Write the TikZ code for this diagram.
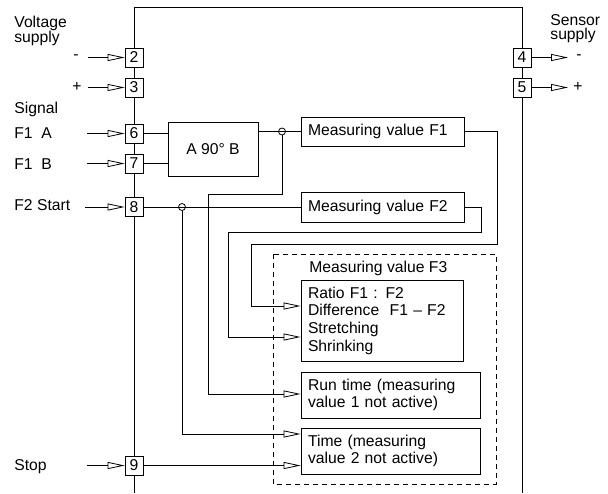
\documentclass[tikz,border=0pt]{standalone}
\usepackage{fontspec}
\setmainfont{Liberation Sans}
\usetikzlibrary{arrows.meta}
\begin{document}
\begin{tikzpicture}[x=1pt,y=-1pt, line width=0.8pt,
 font=\fontsize{15.7}{17.7}\selectfont,
 term/.style={draw, fill=white, minimum width=18pt, minimum height=19pt, inner sep=0pt},
 blk/.style={draw, fill=white, inner xsep=7pt, inner ysep=0pt, align=left},
 lbl/.style={anchor=base west, inner sep=0pt},
 lbl2/.style={anchor=north west, inner sep=0pt, align=left, font=\fontsize{15.7}{14}\selectfont},
 sgn/.style={inner sep=0pt},
 tip/.style={-{Triangle[open, length=17pt, width=7pt]}},
 jn/.style={circle, draw, minimum size=7pt, inner sep=0pt},
 dbox/.style={dash pattern=on 5pt off 4pt}
]
\useasboundingbox (0,0) rectangle (608,493);
% frame
\coordinate (fb1) at (134,493);
\coordinate (ft1) at (134,7);
\coordinate (ft2) at (522,7);
\coordinate (fb2) at (522,493);
\draw (fb1) -- (ft1) -- (ft2) -- (fb2);
% dashed group
\draw[dbox] (273,254) rectangle (496,484);
% terminals
\node[term] (t2) at (134,57.5) {2};
\node[term] (t3) at (134,87.5) {3};
\node[term] (t6) at (134,133.5) {6};
\node[term] (t7) at (134,163.5) {7};
\node[term] (t8) at (134,207) {8};
\node[term] (t9) at (134,465.5) {9};
\node[term] (t4) at (522,57.5) {4};
\node[term] (t5) at (522,87.5) {5};
% labels
\node[lbl2] (lv) at (14,15.5) {Voltage\\supply};
\node[sgn] (lm1) at (76,57.5) {-};
\node[sgn] (lp1) at (77,87) {+};
\node[lbl] (lsig) at (14,113) {Signal};
\node[lbl] (lfa) at (14,138.5) {F1\ \ A};
\node[lbl] (lfb) at (14,169) {F1\ \ B};
\node[lbl] (lf2) at (14,210.5) {F2 Start};
\node[lbl] (lst) at (14,470) {Stop};
\node[lbl2] (ls) at (550,14.5) {Sensor\\supply};
\node[sgn] (lm2) at (579,57.5) {-};
\node[sgn] (lp2) at (578,87) {+};
\node[lbl] (lf3) at (309,272) {Measuring value F3};
% blocks
\node[draw, minimum width=90pt, minimum height=54pt, inner sep=0pt] (ab) at (213,149) {A 90° B};
\node[blk, text width=149pt, minimum height=29pt] (mf1) at (382.5,131.5) {Measuring value F1};
\node[blk, text width=149pt, minimum height=30pt] (mf2) at (382.5,207) {Measuring value F2};
\node[blk, text width=148pt, minimum height=81pt] (ratio) at (382,320.5) {Ratio F1 : F2\\Difference\ \ F1 – F2\\Stretching\\Shrinking};
\node[blk, text width=165pt, minimum height=46pt] (run) at (390.5,395) {Run time (measuring\\value 1 not active)};
\node[blk, text width=165pt, minimum height=46pt] (time) at (390.5,451) {Time (measuring\\value 2 not active)};
% junctions
\node[jn] (j1) at (282,131.5) {};
\node[jn] (j2) at (182,207) {};
% inputs
\coordinate (i2) at (88,57.5);
\coordinate (i3) at (88,87.5);
\coordinate (i6) at (87,133.5);
\coordinate (i7) at (87,163.5);
\coordinate (i8) at (85,207);
\coordinate (i9) at (87,465.5);
\draw[tip] (i2) -- (t2.west);
\draw[tip] (i3) -- (t3.west);
\draw[tip] (i6) -- (t6.west);
\draw[tip] (i7) -- (t7.west);
\draw[tip] (i8) -- (t8.west);
\draw[tip] (i9) -- (t9.west);
% outputs
\coordinate (o4) at (568,57.5);
\coordinate (o5) at (568,87.5);
\draw[tip] (t4.east) -- (o4);
\draw[tip] (t5.east) -- (o5);
% internal
\draw (t6.east) -- (t6.east -| ab.west);
\draw (t7.east) -- (t7.east -| ab.west);
\draw (ab.east |- mf1.west) -- (mf1.west);
\draw (t8.east) -- (mf2.west);
\coordinate (k1) at (251,306);
\coordinate (k2) at (228,337);
\coordinate (k3) at (208,394);
\coordinate (k4) at (182,434);
\draw[tip] (mf1.east) -| (497,244) -| (k1) -- (k1 -| ratio.west);
\draw[tip] (mf2.east) -| (481,232) -| (k2) -- (k2 -| ratio.west);
\draw[tip] (j1.south) |- (208,194) -- (k3) -- (k3 -| run.west);
\draw[tip] (j2.south) -- (k4) -- (k4 -| time.west);
\draw[tip] (t9.east) -- (t9.east -| time.west);
\end{tikzpicture}
\end{document}
